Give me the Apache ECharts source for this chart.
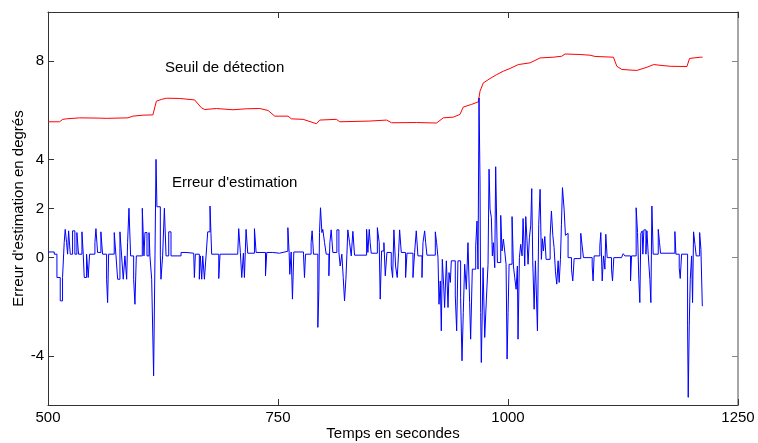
<!DOCTYPE html>
<html>
<head>
<meta charset="utf-8">
<script src="https://cdn.jsdelivr.net/npm/echarts@6/dist/echarts.min.js"></script>
<style>
  html, body { margin: 0; padding: 0; background: #fff; }
  #chart { width: 758px; height: 443px; }
</style>
</head>
<body>
<div id="chart"></div>
<script>
// Temps (s) et erreur d'estimation (degrés)
const errTime = [
  500, 506.8, 509.7, 513.3, 515.8, 517.6, 518.7, 520.2, 521.3, 522.4, 524.2, 526.7, 529.2, 531.4, 533.2,
  536.9, 538.3, 539.4, 541.9, 543.7, 545.2, 551.0, 552.1, 553.9, 557.5, 559.3, 563.7, 564.8, 565.9,
  572.0, 573.9, 575.7, 578.2, 580.0, 581.8, 583.6, 585.5, 586.5, 588.0, 589.8, 593.1, 594.5, 596.0,
  602.5, 604.3, 605.4, 607.6, 609.8, 610.8, 612.7, 614.8, 616.3, 617.4, 618.4, 622.1, 622.8, 624.6,
  626.5, 628.3, 631.2, 633.7, 644.6, 650.0, 658.4, 659.1, 660.2, 664.5, 665.6, 667.1, 668.2, 670.0,
  671.8, 673.6, 676.1, 677.9, 685.6, 687.0, 706.2, 707.3, 709.1, 710.6, 712.4, 713.5, 715.3, 717.1,
  724.4, 726.2, 736.4, 737.8, 744.3, 751.6, 760.7, 762.1, 762.8, 764.3, 765.7, 767.2, 777.7, 778.8,
  779.9, 786.0, 787.1, 788.6, 793.3, 794.4, 795.1, 796.2, 797.7, 798.7, 800.6, 802.4, 805.3, 806.4,
  807.8, 809.6, 814.0, 816.2, 817.6, 819.4, 820.9, 822.3, 823.8, 824.9, 825.9, 827.8, 829.6, 831.4,
  833.2, 846.3, 847.7, 849.2, 850.2, 851.3, 858.0, 860.0, 861.1, 862.6, 865.1, 866.6, 868.4, 873.1,
  874.6, 876.0, 877.8, 879.6, 881.1, 882.2, 884.0, 888.7, 890.2, 896.7, 898.5, 900.3, 902.1, 906.5,
  907.6, 909.4, 910.5, 911.9, 921.0, 922.4, 923.9, 925.0, 926.4, 927.5, 928.6, 930.1, 931.1, 933.0,
  934.8, 935.9, 937.3, 938.4, 942.7, 944.2, 945.6, 948.5, 950.0, 951.4, 952.9, 954.7, 956.5, 958.3,
  959.4, 961.2, 964.9, 966.3, 967.4, 968.5, 969.6, 970.3, 971.0, 972.9, 974.7, 976.5, 978.3, 979.4,
  980.5, 981.9, 983.0, 984.1, 985.6, 986.6, 988.5, 992.1, 993.5, 995.0, 996.4, 997.9, 999.0, 1000.1,
  1001.2, 1004.4, 1005.9, 1007.3, 1008.8, 1010.2, 1010.9, 1012.4, 1013.8, 1015.3, 1016.4, 1018.2,
  1019.3, 1020.7, 1021.8, 1023.3, 1024.7, 1025.8, 1026.9, 1028.4, 1029.8, 1030.9, 1032.0, 1033.4,
  1034.9, 1036.3, 1037.4, 1038.5, 1040.0, 1041.4, 1045.8, 1047.2, 1048.7, 1050.1, 1051.6, 1053.0,
  1054.5, 1055.6, 1057.0, 1058.1, 1059.2, 1061.0, 1062.4, 1063.9, 1065.3, 1069.0, 1070.4, 1071.9,
  1079.1, 1080.6, 1082.0, 1091.5, 1092.5, 1093.6, 1099.8, 1100.9, 1102.4, 1103.8, 1105.3, 1106.3,
  1107.8, 1112.5, 1113.6, 1115.0, 1123.4, 1125.2, 1127.0, 1133.2, 1134.3, 1139.3, 1140.8, 1142.2,
  1143.3, 1144.4, 1145.9, 1146.6, 1147.7, 1149.9, 1151.0, 1152.4, 1154.2, 1155.3, 1156.4, 1157.8,
  1163.3, 1164.7, 1165.8, 1181.4, 1182.5, 1186.1, 1187.2, 1188.7, 1195.2, 1195.9, 1197.0, 1198.1,
  1199.6, 1200.6, 1201.7, 1203.2, 1204.6, 1208.3, 1209.7, 1211.2, 1212.0
];
const errValue = [
  0.23, 0.14, -0.81, -1.76, -0.81, 0.61, 1.15, 0.61, 0.14, 1.09, 0.14, 1.09, 0.14, 1.02, 0.14,
  1.05, 0.14, -0.81, 0.14, -0.81, 0.14, 0.61, 1.18, 0.21, 1.05, 0.14, -0.88, -1.83, 0.14,
  1.02, 0.07, -0.88, 1.05, 0.07, -0.88, 0.07, -0.88, 0.61, 2.01, 0.07, -0.88, -1.90, 0.07,
  2.01, 0.07, 1.02, 0.07, 1.02, 0.07, -0.88, -4.81, 0.07, 4.0, 2.07, 0.07, -0.88, 0.07,
  2.01, 0.07, 1.05, 0.07, 0.21, 0.18, 0.14, -0.81, 0.14, -0.88, 0.07, -0.88, 0.07, -0.88,
  0.07, 1.05, 2.10, 0.14, -0.85, 0.14, 0.18, 1.18, 0.21, -0.81, 0.18, -0.81, 1.15, 0.18,
  1.18, 0.21, -0.74, 0.21, 0.18, 0.26, 1.22, 0.21, -0.68, 0.23, -1.69, 0.23, 0.14, -0.81,
  0.14, 0.61, 1.09, 0.14, -2.84, -1.35, 1.02, 2.03, 1.02, 1.15, 0.61, 0.14, -0.74, 0.61,
  1.13, 0.21, 1.13, 0.21, -0.34, 0.14, -0.81, -1.76, -0.88, 0.14, 1.13, 0.61, 0.07, 1.07,
  0.10, 1.15, 0.21, 1.15, 0.61, 0.18, 1.22, 0.61, -1.69, 0.27, 0.61, -0.74, 0.21, -0.34,
  -0.81, 1.13, -0.34, -0.81, 0.21, 1.13, 0.21, -0.81, 0.18, -0.81, 0.21, 1.09, 0.07, -0.81,
  0.61, 1.09, 0.61, 0.10, 1.05, 0.61, 0.0, -1.90, -0.95, -2.98, -0.07, -1.15, -2.03, -0.13,
  -2.03, -0.61, -1.01, -0.13, -1.56, -2.98, -0.13, -1.62, -4.20, -2.23, -0.27, -1.29, 0.61, -1.83,
  -3.32, -0.47, 0.48, 1.49, -0.47, 6.50, 3.00, -2.23, -4.27, -0.41, -3.25, -1.69, -0.27, 3.60,
  1.97, 1.63, 0.07, 0.61, -0.41, 3.70, -0.20, 1.72, 0.27, 0.75, 0.27, -0.27, -4.13, -2.23,
  -0.27, 1.67, -0.34, -0.81, -1.29, -0.34, -3.32, 0.0, 0.54, 0.07, 1.59, -0.34,
  1.67, 0.68, -0.27, 0.82, 1.32, 2.81, -0.13, -2.10, -0.13, -1.56, -2.98, 1.36,
  2.78, -0.07, 0.77, 0.27, 0.86, -0.07, 0.88, 1.90, 0.91, 0.41, -0.58, -1.08,
  -0.13, -1.01, -0.07, 1.36, 2.85, 1.97, 0.91, 0.99, 0.0, -0.47, -0.95, -0.04,
  0.99, 0.48, 0.0, -0.34, -0.95, 0.07, 0.48, 1.02, -0.95, 0.07, -0.47, 0.95,
  0.0, -0.47, -0.95, 0.0, 0.07, 0.16, 0.07, -0.95, 0.07, 2.03, 1.02, -0.88,
  -1.83, 0.99, 1.09, 0.14, 1.13, 0.14, 1.09, 0.14, -0.88, -1.83, 2.10, 0.14,
  1.15, 0.61, 0.18, 1.06, 0.14, -0.41, -0.85, 0.14, -2.78, -5.69, -2.78, -0.88,
  0.07, -1.83, 1.05, 0.54, 0.07, 1.02, 0.34, -1.96, -1.96
];

// Seuil de détection
const seuilTime = [
  500, 512.5, 516.1, 519.8, 534.3, 556.0, 563.3, 586.8, 592.3, 603.2, 614.0, 617.8, 623.2, 628.6,
  643.1, 659.4, 666.7, 670.3, 683.0, 701.1, 715.7, 730.2, 739.2, 746.5, 760.9, 764.6, 777.3, 791.8,
  795.4, 813.6, 817.2, 849.9, 868.0, 873.5, 900.7, 922.4, 929.6, 940.5, 947.8, 951.4, 960.5, 967.7,
  969.6, 973.1, 980.4, 987.7, 994.9, 1002.2, 1011.2, 1024.0, 1034.9, 1049.3, 1058.5, 1062.0, 1078.4,
  1089.3, 1094.7, 1114.6, 1118.3, 1123.8, 1140.0, 1151.0, 1158.2, 1176.3, 1194.5, 1197.3, 1209.0, 1211.5
];
const seuilValue = [
  5.53, 5.53, 5.63, 5.65, 5.69, 5.68, 5.67, 5.69, 5.76, 5.80, 5.81, 6.37, 6.44, 6.49,
  6.48, 6.42, 6.10, 6.03, 6.07, 6.02, 6.06, 6.07, 5.99, 5.76, 5.76, 5.65, 5.63, 5.45,
  5.60, 5.63, 5.53, 5.56, 5.60, 5.49, 5.50, 5.48, 5.69, 5.72, 5.83, 6.13, 6.24, 6.34,
  6.78, 7.11, 7.29, 7.45, 7.59, 7.70, 7.86, 7.93, 8.13, 8.16, 8.20, 8.29, 8.27,
  8.24, 8.19, 8.16, 7.79, 7.66, 7.62, 7.75, 7.86, 7.79, 7.78, 8.11, 8.16, 8.16
];

const xTicks = [500, 750, 1000, 1250];
const yTicks = [-4, 0, 2, 4, 8];

const font = 'Liberation Sans, Arial, sans-serif';
const chart = echarts.init(document.getElementById('chart'));

const errData = errTime.map((t, i) => [t, errValue[i]]);
const seuilData = seuilTime.map((t, i) => [t, seuilValue[i]]);

const tickIn = { show: true, inside: true, length: 6, lineStyle: { color: '#333' } };
const plain = v => String(v); // pas de séparateur de milliers

chart.setOption({
  animation: false,
  backgroundColor: '#fff',
  grid: { left: 48, right: 20, top: 12, bottom: 38, outerBoundsMode: 'none', containLabel: false },
  xAxis: [
    {
      type: 'value', min: 500, max: 1250, interval: 250,
      name: 'Temps en secondes', nameLocation: 'middle', nameGap: 21, nameMoveOverlap: false,
      nameTextStyle: { fontFamily: font, fontSize: 15, color: '#000' },
      axisLine: { onZero: false, lineStyle: { color: '#333' } },
      axisTick: Object.assign({ customValues: xTicks }, tickIn),
      axisLabel: { customValues: xTicks, formatter: plain, fontFamily: font, fontSize: 15, color: '#000', margin: 5 },
      splitLine: { show: false }
    },
    {
      type: 'value', position: 'top', min: 500, max: 1250, interval: 250,
      axisLine: { onZero: false, lineStyle: { color: '#333' } },
      axisTick: Object.assign({ customValues: xTicks }, tickIn),
      axisLabel: { show: false },
      splitLine: { show: false }
    }
  ],
  yAxis: [
    {
      type: 'value', min: -6, max: 10, interval: 2,
      name: "Erreur d'estimation en degrés", nameLocation: 'middle', nameGap: 22, nameMoveOverlap: false,
      nameTextStyle: { fontFamily: font, fontSize: 15, color: '#000' },
      axisLine: { show: true, onZero: false, lineStyle: { color: '#333' } },
      axisTick: Object.assign({ customValues: yTicks }, tickIn),
      axisLabel: { customValues: yTicks, formatter: plain, fontFamily: font, fontSize: 15, color: '#000', margin: 4 },
      splitLine: { show: false }
    },
    {
      type: 'value', position: 'right', min: -6, max: 10, interval: 2,
      axisLine: { show: true, onZero: false, lineStyle: { color: '#888', width: 1.5 } },
      axisTick: { show: true, inside: true, length: 6, customValues: yTicks, lineStyle: { color: '#888' } },
      axisLabel: { show: false },
      splitLine: { show: false }
    }
  ],
  graphic: [
    { type: 'text', left: 165, top: 60, style: { text: 'Seuil de détection', font: '15px ' + font, fill: '#000' } },
    { type: 'text', left: 172, top: 175, style: { text: "Erreur d'estimation", font: '15px ' + font, fill: '#000' } }
  ],
  series: [
    {
      type: 'line',
      name: 'seuil',
      data: seuilData,
      showSymbol: false,
      lineStyle: { color: '#ff0000', width: 1 },
      silent: true
    },
    {
      type: 'line',
      name: 'erreur',
      data: errData,
      step: 'end',
      showSymbol: false,
      lineStyle: { color: '#0000ff', width: 1 },
      silent: true
    }
  ]
});
</script>
</body>
</html>
